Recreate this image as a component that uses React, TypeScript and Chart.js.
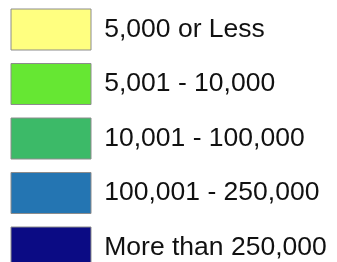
import React, { useEffect, useRef } from "react";
import { Chart, registerables } from "chart.js";

Chart.register(...registerables);

const categories = [
  "5,000 or Less",
  "5,001 - 10,000",
  "10,001 - 100,000",
  "100,001 - 250,000",
  "More than 250,000",
];
const colors = ["#ffff80", "#66e733", "#3cba68", "#2475b2", "#0b0b84"];
const borderColor = "#8c8c8c";

export default function App() {
  const ref = useRef<HTMLCanvasElement | null>(null);
  useEffect(() => {
    if (!ref.current) return;
    const chart = new Chart(ref.current, {
      type: "bar",
      data: {
        labels: [""],
        datasets: categories.map((label, i) => ({
          label,
          data: [],
          backgroundColor: colors[i],
          borderColor,
          borderWidth: 1,
        })),
      },
      options: {
        responsive: false,
        animation: false,
        devicePixelRatio: 1,
        layout: { padding: { left: -2.5, top: -4.5, right: 0, bottom: 0 } },
        scales: { x: { display: false }, y: { display: false } },
        plugins: {
          tooltip: { enabled: false },
          legend: {
            display: true,
            position: "left",
            align: "start",
            maxWidth: 340,
            labels: {
              boxWidth: 80,
              boxHeight: 41,
              padding: 13.5,
              color: "#111111",
              font: { family: "'Liberation Sans', Arial, sans-serif", size: 26.5 },
            },
          },
        },
      },
    });
    return () => chart.destroy();
  }, []);
  return (
    <div
      style={{
        position: "fixed",
        left: 0,
        top: 0,
        width: 337,
        height: 262,
        overflow: "hidden",
        background: "#ffffff",
      }}
    >
      <canvas ref={ref} width={337} height={300} style={{ display: "block" }} />
    </div>
  );
}
